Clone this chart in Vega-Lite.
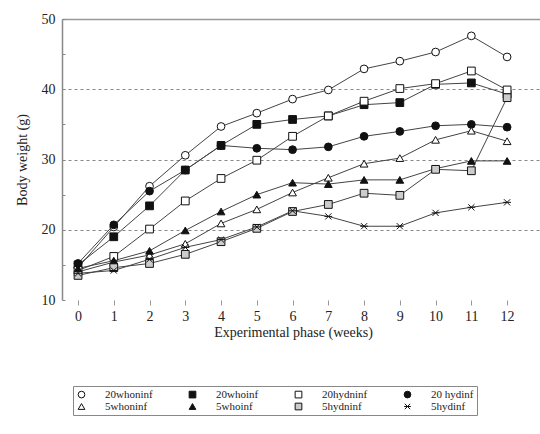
{
  "$schema": "https://vega.github.io/schema/vega-lite/v6.json",
  "width": 478,
  "height": 281,
  "autosize": {"type": "none"},
  "padding": {"left": 62, "top": 19, "right": 0, "bottom": 134},
  "background": "white",
  "config": {
    "view": {"stroke": null},
    "font": "Liberation Serif",
    "axis": {"labelFont": "Liberation Serif", "titleFont": "Liberation Serif", "labelColor": "#222", "titleColor": "#222", "titleFontWeight": "normal"},
    "legend": {"labelFont": "Liberation Serif", "symbolStrokeWidth": 1}
  },
  "data": {
    "values": [
      {"week":0,"series":"20whoninf","w":14.6},{"week":1,"series":"20whoninf","w":20.4},{"week":2,"series":"20whoninf","w":26.2},{"week":3,"series":"20whoninf","w":30.6},{"week":4,"series":"20whoninf","w":34.7},{"week":5,"series":"20whoninf","w":36.6},{"week":6,"series":"20whoninf","w":38.6},{"week":7,"series":"20whoninf","w":39.9},{"week":8,"series":"20whoninf","w":42.9},{"week":9,"series":"20whoninf","w":44.0},{"week":10,"series":"20whoninf","w":45.3},{"week":11,"series":"20whoninf","w":47.6},{"week":12,"series":"20whoninf","w":44.6},
      {"week":0,"series":"20whoinf","w":15.0},{"week":1,"series":"20whoinf","w":19.0},{"week":2,"series":"20whoinf","w":23.4},{"week":3,"series":"20whoinf","w":28.5},{"week":4,"series":"20whoinf","w":32.0},{"week":5,"series":"20whoinf","w":35.0},{"week":6,"series":"20whoinf","w":35.7},{"week":7,"series":"20whoinf","w":36.2},{"week":8,"series":"20whoinf","w":37.8},{"week":9,"series":"20whoinf","w":38.1},{"week":10,"series":"20whoinf","w":40.7},{"week":11,"series":"20whoinf","w":40.9},{"week":12,"series":"20whoinf","w":39.3},
      {"week":0,"series":"20hydninf","w":14.2},{"week":1,"series":"20hydninf","w":16.2},{"week":2,"series":"20hydninf","w":20.1},{"week":3,"series":"20hydninf","w":24.1},{"week":4,"series":"20hydninf","w":27.3},{"week":5,"series":"20hydninf","w":29.9},{"week":6,"series":"20hydninf","w":33.3},{"week":7,"series":"20hydninf","w":36.2},{"week":8,"series":"20hydninf","w":38.3},{"week":9,"series":"20hydninf","w":40.1},{"week":10,"series":"20hydninf","w":40.8},{"week":11,"series":"20hydninf","w":42.6},{"week":12,"series":"20hydninf","w":39.9},
      {"week":0,"series":"20 hydinf","w":15.2},{"week":1,"series":"20 hydinf","w":20.7},{"week":2,"series":"20 hydinf","w":25.5},{"week":3,"series":"20 hydinf","w":28.5},{"week":4,"series":"20 hydinf","w":32.0},{"week":5,"series":"20 hydinf","w":31.6},{"week":6,"series":"20 hydinf","w":31.4},{"week":7,"series":"20 hydinf","w":31.8},{"week":8,"series":"20 hydinf","w":33.3},{"week":9,"series":"20 hydinf","w":34.0},{"week":10,"series":"20 hydinf","w":34.8},{"week":11,"series":"20 hydinf","w":35.0},{"week":12,"series":"20 hydinf","w":34.6},
      {"week":0,"series":"5whoninf","w":14.0},{"week":1,"series":"5whoninf","w":15.4},{"week":2,"series":"5whoninf","w":16.4},{"week":3,"series":"5whoninf","w":18.0},{"week":4,"series":"5whoninf","w":20.9},{"week":5,"series":"5whoninf","w":22.9},{"week":6,"series":"5whoninf","w":25.3},{"week":7,"series":"5whoninf","w":27.4},{"week":8,"series":"5whoninf","w":29.4},{"week":9,"series":"5whoninf","w":30.2},{"week":10,"series":"5whoninf","w":32.8},{"week":11,"series":"5whoninf","w":34.1},{"week":12,"series":"5whoninf","w":32.6},
      {"week":0,"series":"5whoinf","w":14.5},{"week":1,"series":"5whoinf","w":15.6},{"week":2,"series":"5whoinf","w":17.0},{"week":3,"series":"5whoinf","w":19.9},{"week":4,"series":"5whoinf","w":22.6},{"week":5,"series":"5whoinf","w":25.0},{"week":6,"series":"5whoinf","w":26.7},{"week":7,"series":"5whoinf","w":26.5},{"week":8,"series":"5whoinf","w":27.1},{"week":9,"series":"5whoinf","w":27.1},{"week":10,"series":"5whoinf","w":28.7},{"week":11,"series":"5whoinf","w":29.8},{"week":12,"series":"5whoinf","w":29.8},
      {"week":0,"series":"5hydninf","w":13.5},{"week":1,"series":"5hydninf","w":14.6},{"week":2,"series":"5hydninf","w":15.2},{"week":3,"series":"5hydninf","w":16.5},{"week":4,"series":"5hydninf","w":18.3},{"week":5,"series":"5hydninf","w":20.2},{"week":6,"series":"5hydninf","w":22.6},{"week":7,"series":"5hydninf","w":23.6},{"week":8,"series":"5hydninf","w":25.2},{"week":9,"series":"5hydninf","w":24.9},{"week":10,"series":"5hydninf","w":28.6},{"week":11,"series":"5hydninf","w":28.4},{"week":12,"series":"5hydninf","w":38.8},
      {"week":0,"series":"5hydinf","w":13.8},{"week":1,"series":"5hydinf","w":14.2},{"week":2,"series":"5hydinf","w":15.8},{"week":3,"series":"5hydinf","w":17.5},{"week":4,"series":"5hydinf","w":18.6},{"week":5,"series":"5hydinf","w":20.4},{"week":6,"series":"5hydinf","w":22.7},{"week":7,"series":"5hydinf","w":21.9},{"week":8,"series":"5hydinf","w":20.5},{"week":9,"series":"5hydinf","w":20.5},{"week":10,"series":"5hydinf","w":22.4},{"week":11,"series":"5hydinf","w":23.2},{"week":12,"series":"5hydinf","w":23.9}
    ]
  },
  "encoding": {
    "x": {
      "field": "week", "type": "quantitative",
      "scale": {"domain": [-0.448, 12.92], "nice": false, "zero": false},
      "axis": {
        "values": [0,1,2,3,4,5,6,7,8,9,10,11,12],
        "domain": false, "grid": false,
        "tickColor": "#999", "tickSize": 5, "tickWidth": 1,
        "labelFont": "Liberation Serif", "titleFont": "Liberation Serif",
        "labelFontSize": 14, "labelPadding": 4,
        "title": "Experimental phase (weeks)", "titleFontSize": 14, "titlePadding": 2,
        "titleX": 231
      }
    },
    "y": {
      "field": "w", "type": "quantitative",
      "scale": {"domain": [10, 50], "nice": false, "zero": false},
      "axis": {
        "values": [10,15,20,25,30,35,40,45,50],
        "labelExpr": "datum.value % 10 === 0 ? datum.label : ''",
        "domainColor": "#888", "domainWidth": 1.5,
        "tickColor": "#888", "tickSize": -3,
        "grid": true,
        "gridColor": {"condition": {"test": "datum.value === 50", "value": "#999"}, "value": "#888"},
        "gridDash": {"condition": {"test": "datum.value === 50", "value": []}, "value": [3, 3]},
        "gridWidth": {"condition": {"test": "datum.value === 50", "value": 1.5}, "value": 1},
        "gridOpacity": {"condition": {"test": "datum.value % 10 !== 0 || datum.value === 10", "value": 0}, "value": 1},
        "labelFont": "Liberation Serif", "titleFont": "Liberation Serif",
        "labelFontSize": 14, "labelPadding": 10,
        "title": "Body weight (g)", "titleFontSize": 14, "titlePadding": 12
      }
    }
  },
  "layer": [
    {
      "mark": {"type": "line", "color": "#444", "strokeWidth": 1},
      "encoding": {"detail": {"field": "series"}}
    },
    {
      "mark": {"type": "point", "filled": true, "strokeWidth": 1, "size": 60, "opacity": 1},
      "encoding": {
        "shape": {
          "field": "series", "type": "nominal",
          "scale": {
            "domain": ["20whoninf","20whoinf","20hydninf","20 hydinf","5whoninf","5whoinf","5hydninf","5hydinf"],
            "range": ["circle","square","square","circle","triangle-up","triangle-up","square","M-0.8,-0.8L0.8,0.8M-0.8,0.8L0.8,-0.8M-1,0L1,0"]
          },
          "legend": {
            "title": null, "orient": "none", "legendX": 11, "legendY": 367,
            "direction": "horizontal", "columns": 4,
            "strokeColor": "#888", "fillColor": "white", "padding": 3,
            "labelFontSize": 11, "labelColor": "#222", "symbolSize": 45,
            "columnPadding": 34, "rowPadding": 0, "labelOffset": 18
          }
        },
        "fill": {
          "field": "series", "type": "nominal",
          "scale": {
            "domain": ["20whoninf","20whoinf","20hydninf","20 hydinf","5whoninf","5whoinf","5hydninf","5hydinf"],
            "range": ["white","#111","white","#111","white","#111","#ccc","white"]
          },
          "legend": {
            "title": null, "orient": "none", "legendX": 11, "legendY": 367,
            "direction": "horizontal", "columns": 4,
            "strokeColor": "#888", "fillColor": "white", "padding": 3,
            "labelFontSize": 11, "labelColor": "#222", "symbolSize": 45,
            "columnPadding": 34, "rowPadding": 0, "labelOffset": 18
          }
        },
        "stroke": {
          "field": "series", "type": "nominal",
          "scale": {
            "domain": ["20whoninf","20whoinf","20hydninf","20 hydinf","5whoninf","5whoinf","5hydninf","5hydinf"],
            "range": ["#111","#111","#111","#111","#111","#111","#111","#111"]
          },
          "legend": {
            "title": null, "orient": "none", "legendX": 11, "legendY": 367,
            "direction": "horizontal", "columns": 4,
            "strokeColor": "#888", "fillColor": "white", "padding": 3,
            "labelFontSize": 11, "labelColor": "#222", "symbolSize": 45,
            "columnPadding": 34, "rowPadding": 0, "labelOffset": 18
          }
        }
      }
    }
  ]
}
